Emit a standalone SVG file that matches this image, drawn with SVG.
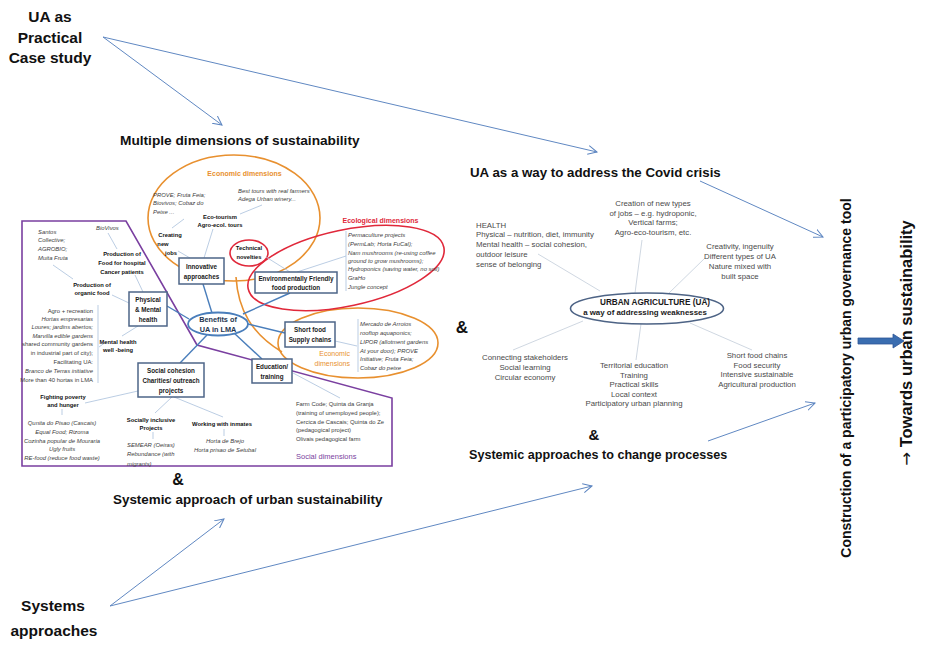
<svg xmlns="http://www.w3.org/2000/svg" width="927" height="646" viewBox="0 0 927 646">
<defs>
<marker id="ah" viewBox="0 0 10 10" refX="9" refY="5" markerWidth="10" markerHeight="10" markerUnits="userSpaceOnUse" orient="auto">
<path d="M0,0.5 L9,5 L0,9.5" fill="none" stroke="#5b84c0" stroke-width="1"/>
</marker>
<style>
text{font-family:"Liberation Sans",Arial,sans-serif}
.h{font-weight:bold;fill:#111}
.arr{stroke:#6088c2;stroke-width:1;fill:none;marker-end:url(#ah)}
.thin{stroke:#a9c0dc;stroke-width:0.8;fill:none}
.spk{stroke:#c9d2de;stroke-width:0.9;fill:none}
.bl{stroke:#4a7ebb;stroke-width:1.4;fill:none}
.box{fill:#fff;stroke:#4d6588;stroke-width:1.5}
.bx{font-weight:bold;font-size:6.3px;fill:#1a1a1a;text-anchor:middle}
.lb{font-weight:bold;font-size:5.8px;fill:#111;text-anchor:middle}
.si{font-style:italic;font-size:5.9px;fill:#3d3d3d}
.sn{font-size:5.9px;fill:#3d3d3d}
.r{font-size:7.8px;fill:#4a4a4a;text-anchor:middle}
.rl{font-size:7.8px;fill:#4a4a4a}
.or{fill:#e8902f}
.rd{fill:#e0283a}
</style>
</defs>
<rect width="927" height="646" fill="#fff"/>

<g id="connectors">
<path class="arr" d="M103,37 L222,125"/>
<path class="arr" d="M103,37 L597,152"/>
<path class="arr" d="M700,181 L823,237"/>
<path class="arr" d="M708,441 L815,403"/>
<path class="arr" d="M110,606 L224,519"/>
<path class="arr" d="M110,606 L592,486"/>
</g>

<g id="title-ua-case">
<text class="h" font-size="15.5" text-anchor="middle" x="50" y="22">UA as</text>
<text class="h" font-size="15.5" text-anchor="middle" x="50" y="43">Practical</text>
<text class="h" font-size="15.5" text-anchor="middle" x="50" y="63">Case study</text>
</g>
<g id="title-multiple">
<text class="h" font-size="13.7" x="120" y="145">Multiple dimensions of sustainability</text>
</g>

<g id="left-diagram">
<polygon points="22,221 126,221 197,345 392,398 392,466 22,466" fill="none" stroke="#7a3fa0" stroke-width="1.6"/>
<ellipse cx="234" cy="218" rx="86" ry="63" fill="none" stroke="#e8902f" stroke-width="1.6"/>
<path d="M236,277 C238,310 252,334 282,352" fill="none" stroke="#e8902f" stroke-width="1.6"/>
<ellipse cx="358" cy="343" rx="80" ry="35" fill="none" stroke="#e8902f" stroke-width="1.6"/>
<ellipse cx="346" cy="268" rx="100" ry="38" transform="rotate(-12 346 268)" fill="none" stroke="#e0283a" stroke-width="1.6"/>
<ellipse cx="249" cy="253" rx="19" ry="13" fill="none" stroke="#e0283a" stroke-width="1.6"/>

<g id="thin-lines">
<path class="thin" d="M172,228 L184,219"/>
<path class="thin" d="M178,251 L190,258"/>
<path class="thin" d="M213,229 L204,258"/>
<path class="thin" d="M262,205 L240,214"/>
<path class="thin" d="M266,257 L290,272"/>
<path class="thin" d="M297,272 L346,256"/>
<path class="thin" d="M53,265 L73,279"/>
<path class="thin" d="M108,233 L117,249"/>
<path class="thin" d="M135,275 L143,292"/>
<path class="thin" d="M112,295 L129,303"/>
<path class="thin" d="M122,336 L138,326"/>
<path class="thin" d="M98,305 L98,383"/>
<path class="thin" d="M99,347 L106,342"/>
<path class="thin" d="M85,403 L138,391"/>
<path class="thin" d="M62,409 L62,415"/>
<path class="thin" d="M172,397 L155,413"/>
<path class="thin" d="M174,397 L223,417"/>
<path class="thin" d="M153,432 L153,439"/>
<path class="thin" d="M224,429 L224,436"/>
<path class="thin" d="M293,373 L340,398"/>
<path class="thin" d="M335,341 L357,346"/>
<path class="thin" d="M346,231 L346,291"/>
<path class="thin" d="M358,319 L358,372"/>
</g>

<g id="blue-links">
<path class="bl" d="M203,284 L212,313"/>
<path class="bl" d="M167,306 L189,319"/>
<path class="bl" d="M243,314 L290,293"/>
<path class="bl" d="M248,324 L285,333"/>
<path class="bl" d="M234,333 L262,359"/>
<path class="bl" d="M207,335 L180,363"/>
</g>

<g id="node-innovative"><rect class="box" x="179" y="258" width="45" height="26"/>
<text class="bx" x="201.5" y="269">Innovative</text><text class="bx" x="201.5" y="279">approaches</text></g>
<g id="node-env"><rect class="box" x="255" y="272" width="82" height="21"/>
<text class="bx" x="296" y="281">Environmentally Friendly</text><text class="bx" x="296" y="290">food production</text></g>
<g id="node-physical"><rect class="box" x="129" y="292" width="38" height="34"/>
<text class="bx" x="148" y="302">Physical</text><text class="bx" x="148" y="312">&amp; Mental</text><text class="bx" x="148" y="322">health</text></g>
<g id="node-shortfood"><rect class="box" x="285" y="322" width="50" height="25"/>
<text class="bx" x="310" y="332">Short food</text><text class="bx" x="310" y="342">Supply chains</text></g>
<g id="node-education"><rect class="box" x="252" y="359" width="40" height="24"/>
<text class="bx" x="272" y="369">Education/</text><text class="bx" x="272" y="379">training</text></g>
<g id="node-social"><rect class="box" x="138" y="363" width="66" height="34"/>
<text class="bx" x="171" y="373">Social cohesion</text><text class="bx" x="171" y="383">Charities/ outreach</text><text class="bx" x="171" y="393">projects</text></g>
<g id="node-benefits"><ellipse cx="218" cy="324" rx="30" ry="11.5" fill="#fff" stroke="#4a7ebb" stroke-width="1.8"/>
<text x="218" y="322" font-size="7.3" font-weight="bold" fill="#26364f" text-anchor="middle">Benefits of</text>
<text x="218" y="332" font-size="7.3" font-weight="bold" fill="#26364f" text-anchor="middle">UA in LMA</text></g>

<g id="econ-texts">
<text class="or" x="244.5" y="176" font-size="7" font-weight="bold" text-anchor="middle">Economic dimensions</text>
<text class="si" x="153" y="197">PROVE; Fruta Feia;</text>
<text class="si" x="153" y="205">Biovivos; Cobaz do</text>
<text class="si" x="153" y="214">Peixe ...</text>
<text class="si" x="238" y="193">Best tours with real farmers</text>
<text class="si" x="238" y="201">Adega Urban winery...</text>
<text class="lb" x="220" y="219">Eco-tourism</text>
<text class="lb" x="220" y="227">Agro-ecol. tours</text>
<text class="lb" x="170" y="237">Creating</text>
<text class="lb" x="163" y="246">new</text>
<text class="lb" x="171" y="255">jobs</text>
<text class="lb" x="249" y="250" font-size="5.4">Technical</text>
<text class="lb" x="249" y="259" font-size="5.4">novelties</text>
</g>

<g id="eco-texts">
<text class="rd" x="380.5" y="223" font-size="7" font-weight="bold" text-anchor="middle">Ecological dimensions</text>
<text class="si" x="348" y="237">Permaculture projects</text>
<text class="si" x="348" y="246">(PermLab; Horta FuCal);</text>
<text class="si" x="348" y="255">Nam mushrooms (re-using coffee</text>
<text class="si" x="348" y="263">ground to grow mushrooms);</text>
<text class="si" x="348" y="271">Hydroponics (saving water, no soil)</text>
<text class="si" x="348" y="280">GraHo</text>
<text class="si" x="348" y="289">Jungle concept</text>
</g>

<g id="shortfood-texts">
<text class="si" x="360" y="326">Mercado de Arroios</text>
<text class="si" x="360" y="335">rooftop aquaponics;</text>
<text class="si" x="360" y="344">LIPOR (allotment gardens</text>
<text class="si" x="360" y="353">At your door); PROVE</text>
<text class="si" x="360" y="361">Initiative; Fruta Feia;</text>
<text class="si" x="360" y="370">Cobaz do peixe</text>
<text class="or" x="350" y="356" font-size="7" text-anchor="end">Economic</text>
<text class="or" x="350" y="366" font-size="7" text-anchor="end">dimensions</text>
</g>

<g id="social-texts">
<text class="si" x="38" y="234">Santos</text>
<text class="si" x="38" y="242">Collective;</text>
<text class="si" x="38" y="251">AGROBIO;</text>
<text class="si" x="38" y="260">Muita Fruta</text>
<text class="si" x="96" y="230">BioVivos</text>
<text class="lb" x="122" y="256">Production of</text>
<text class="lb" x="122" y="265">Food for hospital</text>
<text class="lb" x="122" y="274">Cancer patients</text>
<text class="lb" x="92" y="287">Production of</text>
<text class="lb" x="92" y="295">organic food</text>
<g text-anchor="end">
<text class="sn" x="93" y="313">Agro + recreation</text>
<text class="si" x="93" y="321">Hortas empresarias</text>
<text class="si" x="93" y="329">Loures; jardins abertos;</text>
<text class="si" x="93" y="338">Marvilla edible gardens</text>
<text class="sn" x="93" y="346">shared community gardens</text>
<text class="sn" x="93" y="355">in industrial part of city);</text>
<text class="sn" x="93" y="364">Facilitating UA:</text>
<text class="si" x="93" y="373">Branco de Terras initiative</text>
<text class="sn" x="93" y="382">More than 40 hortas in LMA</text>
</g>
<text class="lb" x="118" y="344">Mental health</text>
<text class="lb" x="118" y="352">well -being</text>
<text class="lb" x="63" y="399">Fighting poverty</text>
<text class="lb" x="63" y="407">and hunger</text>
<g text-anchor="middle">
<text class="si" x="62" y="425">Qunita do Pisao (Cascais)</text>
<text class="si" x="62" y="434">Equal Food; Rizoma</text>
<text class="si" x="62" y="443">Cozinha popular de Mouraria</text>
<text class="si" x="62" y="451">Ugly fruits</text>
<text class="si" x="62" y="460">RE-food (reduce food waste)</text>
<text class="si" x="225" y="443">Horta de Brejo</text>
<text class="si" x="225" y="452">Horta prisao de Setubal</text>
</g>
<text class="lb" x="151" y="422">Socially inclusive</text>
<text class="lb" x="151" y="430">Projects</text>
<text class="lb" x="222" y="426">Working with inmates</text>
<text class="si" x="127" y="447">SEMEAR (Oeiras)</text>
<text class="si" x="127" y="456">Rebundance (with</text>
<text class="si" x="127" y="466">migrants)</text>
<text class="sn" x="296" y="406">Farm Code; Quinta da Granja</text>
<text class="sn" x="296" y="415">(training of unemployed people);</text>
<text class="sn" x="296" y="424">Cercica de Cascais; Quinta do Ze</text>
<text class="sn" x="296" y="432">(pedagogical project)</text>
<text class="sn" x="296" y="441">Olivais pedagogical farm</text>
<text x="296" y="459" font-size="7.5" fill="#7a3fa0">Social dimensions</text>
</g>
</g>

<g id="amp-left"><text class="h" font-size="16" text-anchor="middle" x="178" y="485">&amp;</text></g>
<g id="title-systemic-left"><text class="h" font-size="13.4" x="113" y="504">Systemic approach of urban sustainability</text></g>

<g id="title-covid"><text class="h" font-size="13.3" x="470" y="177">UA as a way to address the Covid crisis</text></g>
<g id="amp-mid"><text class="h" font-size="17" text-anchor="middle" x="462" y="333">&amp;</text></g>

<g id="right-diagram">
<path class="spk" d="M538,254 L600,291"/>
<path class="spk" d="M642,240 L635,293"/>
<path class="spk" d="M705,258 L668,294"/>
<path class="spk" d="M513,350 L583,321"/>
<path class="spk" d="M641,324 L636,360"/>
<path class="spk" d="M690,323 L752,350"/>
<g id="node-ua"><ellipse cx="647" cy="308.5" rx="76.5" ry="15.5" fill="#fff" stroke="#4d6385" stroke-width="1.6"/>
<text x="655" y="304.5" font-size="8.2" font-weight="bold" fill="#1a1a1a" text-anchor="middle">URBAN AGRICULTURE (UA)</text>
<text x="645" y="314.5" font-size="7.9" font-weight="bold" fill="#1a1a1a" text-anchor="middle">a way of addressing weaknesses</text></g>
<g id="node-health">
<text class="rl" x="476" y="227.5">HEALTH</text>
<text class="rl" x="476" y="237">Physical – nutrition, diet, immunity</text>
<text class="rl" x="476" y="247">Mental health – social cohesion,</text>
<text class="rl" x="476" y="257">outdoor leisure</text>
<text class="rl" x="476" y="266.5">sense of belonging</text>
</g>
<g id="node-jobs">
<text class="r" x="653" y="206">Creation of new types</text>
<text class="r" x="653" y="215.5">of jobs – e.g. hydroponic,</text>
<text class="r" x="653" y="225">Vertical farms;</text>
<text class="r" x="653" y="235">Agro-eco-tourism, etc.</text>
</g>
<g id="node-creativity">
<text class="r" x="740" y="249">Creativity, ingenuity</text>
<text class="r" x="740" y="259">Different types of UA</text>
<text class="r" x="740" y="269">Nature mixed with</text>
<text class="r" x="740" y="279">built space</text>
</g>
<g id="node-connecting">
<text class="r" x="525" y="360">Connecting stakeholders</text>
<text class="r" x="525" y="370">Social learning</text>
<text class="r" x="525" y="380">Circular economy</text>
</g>
<g id="node-territorial">
<text class="r" x="634" y="368">Territorial education</text>
<text class="r" x="634" y="377.5">Training</text>
<text class="r" x="634" y="387">Practical skills</text>
<text class="r" x="634" y="396.5">Local context</text>
<text class="r" x="634" y="406">Participatory urban planning</text>
</g>
<g id="node-shortchains">
<text class="r" x="757" y="358">Short food chains</text>
<text class="r" x="757" y="367.5">Food security</text>
<text class="r" x="757" y="377">Intensive sustainable</text>
<text class="r" x="757" y="387">Agricultural production</text>
</g>
</g>

<g id="amp-right"><text class="h" font-size="15" text-anchor="middle" x="594" y="440">&amp;</text></g>
<g id="title-systemic-right"><text class="h" font-size="12.6" x="469" y="459">Systemic approaches to change processes</text></g>

<g id="title-systems"><text class="h" font-size="15.5" text-anchor="middle" x="53" y="611">Systems</text>
<text class="h" font-size="15.5" text-anchor="middle" x="54" y="636">approaches</text></g>

<g id="node-governance"><text class="h" font-size="14" text-anchor="middle" transform="translate(851,378) rotate(-90)">Construction of a participatory urban governance tool</text></g>
<g id="block-arrow"><polygon points="858,338 893,338 893,334 904,341 893,348 893,344 858,344" fill="#3a6db0" stroke="#2f5597" stroke-width="0.8"/></g>
<g id="node-towards"><text class="h" font-size="16.5" text-anchor="middle" transform="translate(912,343) rotate(-90)"><tspan font-family="'DejaVu Sans',sans-serif" font-weight="normal">→</tspan> Towards urban sustainability</text></g>
</svg>
